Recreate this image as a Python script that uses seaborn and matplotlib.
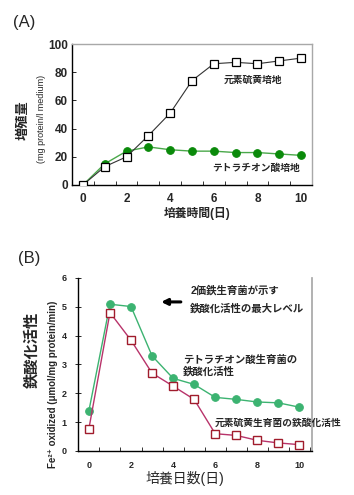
import matplotlib
matplotlib.use("Agg")
import matplotlib.pyplot as plt
import seaborn as sns

# ── data ─────────────────────────────────────────────────────────────────
days = list(range(11))

# (A) growth, mg protein / l medium
sulfur_growth = [0, 13, 20, 35, 51, 74, 86, 87, 86, 88, 90]
tetra_growth = [0, 15, 24, 27, 25, 24, 24, 23, 23, 22, 21]

# (B) Fe2+ oxidation activity, umol / mg protein / min
tetra_activity = [1.40, 5.09, 5.01, 3.30, 2.52, 2.31, 1.86, 1.79, 1.70, 1.67, 1.52]
sulfur_activity = [0.78, 4.80, 3.84, 2.70, 2.25, 1.79, 0.60, 0.54, 0.37, 0.28, 0.22]

even_ticks = [0, 2, 4, 6, 8, 10]
boundary_ticks = [i + 0.5 for i in range(-1, 11)]

sns.set_theme(style="white")
plt.rcParams['font.family'] = ['Liberation Sans', 'Noto Sans CJK JP', 'DejaVu Sans']

fig = plt.figure(figsize=(3.54, 4.95), dpi=100)

# ── Plot A: growth ────────────────────────────────────────────────────────
axA = fig.add_axes([0.2034, 0.6263, 0.678, 0.2848])
sns.lineplot(x=days, y=sulfur_growth, ax=axA, color='#333333', lw=0.8,
             marker='s', markersize=5.5, markerfacecolor='white',
             markeredgecolor='black', markeredgewidth=0.9, zorder=3)
sns.lineplot(x=days, y=tetra_growth, ax=axA, color='#4aa84a', lw=1.0,
             marker='o', markersize=5.5, markerfacecolor='#0a8a0a',
             markeredgecolor='#0a8a0a', zorder=2)
axA.set_xlim(-0.5, 10.45)
axA.set_ylim(0, 100)
axA.set_yticks([0, 20, 40, 60, 80, 100])
axA.set_xticks(even_ticks)
axA.set_xticks(boundary_ticks, minor=True)
axA.tick_params(axis='x', which='major', length=0, pad=6, labelsize=8.5)
axA.tick_params(axis='x', which='minor', direction='in', length=3, width=0.7,
                color='#333333', bottom=True)
axA.tick_params(axis='y', direction='in', length=3, width=0.7, left=True,
                labelsize=8.5, pad=3)
for lab in axA.get_xticklabels() + axA.get_yticklabels():
    lab.set_fontweight('bold')
for s in ['left', 'bottom']:
    axA.spines[s].set_color('black')
    axA.spines[s].set_linewidth(1.0)
for s in ['top', 'right']:
    axA.spines[s].set_color('#a8a8a8')
    axA.spines[s].set_linewidth(1.0)
axA.text(6.44, 74.5, '元素硫黄培地', fontsize=7, fontweight='bold', va='center')
axA.text(5.94, 12, 'テトラチオン酸培地', fontsize=7, fontweight='bold', va='center')

fig.text(13 / 354, 1 - 22 / 495, '(A)', fontsize=12, va='center', ha='left')
fig.text(23 / 354, 1 - 120 / 495, '増殖量', fontsize=9.5, fontweight='bold',
         rotation=90, ha='center', va='center')
fig.text(42 / 354, 1 - 119 / 495, '(mg protein/l medium)', fontsize=6.5,
         rotation=90, ha='center', va='center')
fig.text(197 / 354, 1 - 213 / 495, '培養時間(日)', fontsize=8.5, fontweight='bold',
         ha='center', va='center')

# ── Plot B: iron oxidation activity ───────────────────────────────────────
axB = fig.add_axes([0.2203, 0.0889, 0.661, 0.3495])
sns.lineplot(x=days, y=tetra_activity, ax=axB, color='#3cb371', lw=1.0,
             marker='o', markersize=5.5, markerfacecolor='#3cb371',
             markeredgecolor='#3cb371', zorder=2)
sns.lineplot(x=days, y=sulfur_activity, ax=axB, color='#b8336a', lw=1.0,
             marker='s', markersize=5.5, markerfacecolor='white',
             markeredgecolor='#a01c2c', markeredgewidth=1.0, zorder=3)
axB.set_xlim(-0.52, 10.6)
axB.set_ylim(0, 6)
axB.set_yticks(range(7))
axB.set_xticks(even_ticks)
axB.set_xticks(boundary_ticks, minor=True)
axB.tick_params(axis='x', which='major', length=0, pad=7, labelsize=6.5)
axB.tick_params(axis='x', which='minor', direction='in', length=3, width=0.7,
                color='#333333', bottom=True)
axB.tick_params(axis='y', direction='inout', length=4, width=0.7, left=True,
                labelsize=6.5, pad=6)
for lab in axB.get_xticklabels() + axB.get_yticklabels():
    lab.set_fontweight('bold')
for s in ['left', 'bottom']:
    axB.spines[s].set_color('black')
    axB.spines[s].set_linewidth(1.0)
axB.spines['right'].set_color('#a8a8a8')
axB.spines['top'].set_visible(False)

axB.annotate('', xy=(3.3, 5.17), xytext=(4.5, 5.17),
             arrowprops=dict(arrowstyle='-|>', lw=2.2, color='black',
                             mutation_scale=9))
axB.text(4.81, 5.58, '2価鉄生育菌が示す', fontsize=7.5, fontweight='bold', va='center')
axB.text(4.81, 4.96, '鉄酸化活性の最大レベル', fontsize=7.5, fontweight='bold', va='center')
axB.text(4.48, 3.16, 'テトラチオン酸生育菌の', fontsize=7.5, fontweight='bold', va='center')
axB.text(4.48, 2.77, '鉄酸化活性', fontsize=7.5, fontweight='bold', va='center')
axB.text(6.0, 0.97, '元素硫黄生育菌の鉄酸化活性', fontsize=7, fontweight='bold',
         va='center')

fig.text(18 / 354, 1 - 258 / 495, '(B)', fontsize=12, va='center', ha='left')
fig.text(32 / 354, 1 - 350 / 495, '鉄酸化活性', fontsize=11, fontweight='bold',
         rotation=90, ha='center', va='center')
fig.text(53 / 354, 1 - 384 / 495, 'Fe²⁺ oxidized (μmol/mg protein/min)',
         fontsize=7, fontweight='bold', rotation=90, ha='center', va='center')
fig.text(185 / 354, 1 - 478 / 495, '培養日数(日)', fontsize=10,
         ha='center', va='center')

fig.savefig('out.png', dpi=100)
